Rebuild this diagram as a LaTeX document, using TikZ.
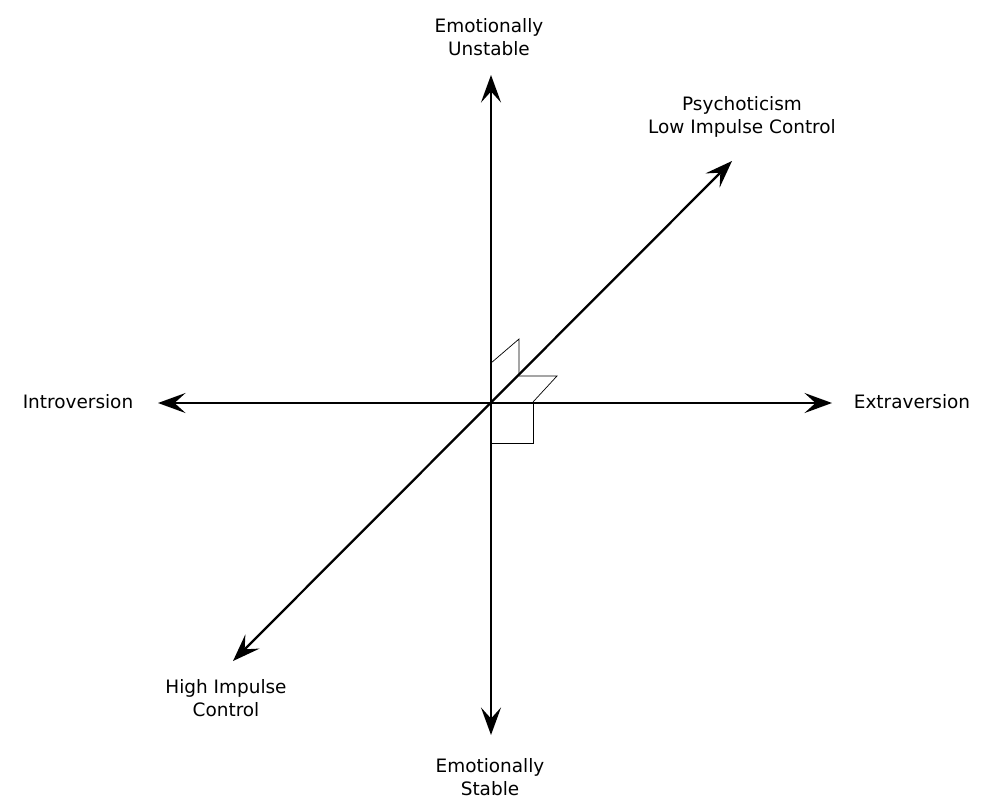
\documentclass[tikz,border=0pt]{standalone}
\usepackage{fontspec}
\setmainfont{DejaVu Sans}
\usetikzlibrary{arrows.meta}
\tikzstyle{axis}=[line width=1.3pt,{Stealth[length=5.5mm,width=4mm,inset=2.2mm]}-{Stealth[length=5.5mm,width=4mm,inset=2.2mm]}]
\tikzstyle{every label node}=[font=\fontsize{10.5}{13}\selectfont,align=center]

\begin{document}
\begin{tikzpicture}[x=0.02cm,y=-0.02cm]
\useasboundingbox (0,0) rectangle (1000,811);
\coordinate (o) at (491,403);
\coordinate (up) at (491,75);
\coordinate (down) at (491,735);
\coordinate (left) at (158,403);
\coordinate (right) at (832,403);
\coordinate (ne) at (732,161);
\coordinate (sw) at (233,661);
\node[every label node] (unstable) at (489,37) {Emotionally\\Unstable};
\node[every label node] (stable) at (490,777) {Emotionally\\Stable};
\node[every label node] (intro) at (78,402) {Introversion};
\node[every label node] (extra) at (912,402) {Extraversion};
\node[every label node] (psycho) at (742,117) {Psychoticism\\Low Impulse Control};
\node[every label node] (high) at (226,698) {High Impulse\\Control};
\draw[axis] (up) -- (down);
\draw[axis] (left) -- (right);
\draw[axis] (sw) -- (ne);
% right-angle markers
\draw[thin] (491,363) -- (519,339) -- (519,375);
\draw[thin] (519,376) -- (557,376) -- (533,402);
\draw[thin] (533,403) -- (533,443) -- (491,443);
\end{tikzpicture}
\end{document}
